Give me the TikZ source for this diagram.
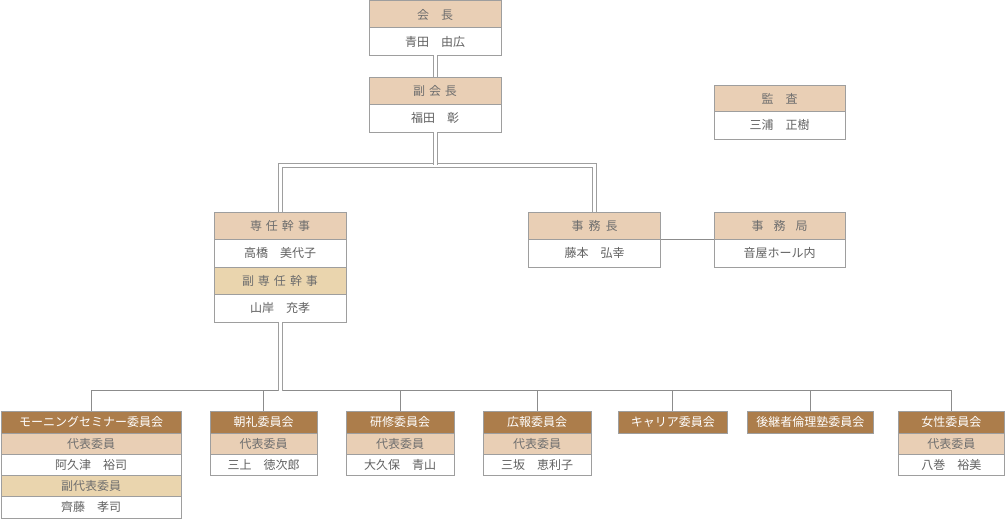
\documentclass[tikz,border=0pt]{standalone}
\usepackage{fontspec}
\newfontfamily\jp{Noto Sans CJK JP}
\definecolor{cBorder}{HTML}{9E9E9E}
\definecolor{cLine}{HTML}{8C8C8C}
\definecolor{cTan}{HTML}{E9CFB5}
\definecolor{cSand}{HTML}{EAD5AE}
\definecolor{cBrown}{HTML}{AC7D4B}
\definecolor{cText}{HTML}{6E6E6E}
\begin{document}
\begin{tikzpicture}[x=1pt,y=-1pt,
  font=\jp\fontsize{12}{14}\selectfont,
  cell/.style={draw=cBorder, line width=1pt, inner sep=0pt, outer sep=0pt,
    anchor=north west, text height=10.5pt, text depth=1.3pt, text=cText},
  tanrow/.style={cell, fill=cTan},
  sandrow/.style={cell, fill=cSand},
  namerow/.style={cell, fill=white, text=black!62},
  brownrow/.style={cell, fill=cBrown, text=white},
  big/.style={minimum width=132, minimum height=27.5},
  dbl/.style={draw=cBorder, line width=1pt, double=white, double distance=3pt},
  bus/.style={draw=cLine, line width=1pt}]
\useasboundingbox (0,0) rectangle (1006,519);

% top
\node[tanrow, big] (kaichoH) at (369,1) {会　長};
\node[namerow, big] (kaichoB) at (369,28) {青田　由広};
\node[tanrow, big] (fukuH) at (369,77) {副\hspace{4pt}会\hspace{4pt}長};
\node[namerow, big] (fukuB) at (369,104.5) {福田　彰};

\node[tanrow, big, minimum width=131] (kansaH) at (714,85) {監　査};
\node[namerow, big, minimum width=131] (kansaB) at (714,111.5) {三浦　正樹};

\node[tanrow, big] (seninH) at (214,212) {専\hspace{4pt}任\hspace{4pt}幹\hspace{4pt}事};
\node[namerow, big] (seninB) at (214,239.5) {高橋　美代子};
\node[sandrow, big] (fseninH) at (214,267) {副\hspace{4pt}専\hspace{4pt}任\hspace{4pt}幹\hspace{4pt}事};
\node[namerow, big] (fseninB) at (214,294.5) {山岸　充孝};

\node[tanrow, big] (jimuchoH) at (528.5,212) {事\hspace{5pt}務\hspace{5pt}長};
\node[namerow, big] (jimuchoB) at (528.5,239.5) {藤本　弘幸};
\node[tanrow, big, minimum width=131] (jimukyokuH) at (714,212) {事\hspace{10pt}務\hspace{10pt}局};
\node[namerow, big, minimum width=131] (jimukyokuB) at (714,239.5) {音屋ホール内};

% bottom committees
\tikzset{hrow/.style={minimum height=22}, srow/.style={minimum height=21}}
\node[brownrow, hrow, minimum width=180] (mornH) at (1,411) {モーニングセミナー委員会};
\node[tanrow, srow, minimum width=180] (mornR1) at (1,433) {代表委員};
\node[namerow, srow, minimum width=180] (mornN1) at (1,454) {阿久津　裕司};
\node[sandrow, srow, minimum width=180, minimum height=21.5] (mornR2) at (1,475) {副代表委員};
\node[namerow, srow, minimum width=180, minimum height=21.5] (mornN2) at (1,496.5) {齊藤　孝司};

\node[brownrow, hrow, minimum width=107] (choreiH) at (210,411) {朝礼委員会};
\node[tanrow, srow, minimum width=107] (choreiR) at (210,433) {代表委員};
\node[namerow, srow, minimum width=107] (choreiN) at (210,454) {三上　徳次郎};

\node[brownrow, hrow, minimum width=108] (kenshuH) at (346,411) {研修委員会};
\node[tanrow, srow, minimum width=108] (kenshuR) at (346,433) {代表委員};
\node[namerow, srow, minimum width=108] (kenshuN) at (346,454) {大久保　青山};

\node[brownrow, hrow, minimum width=108] (kohoH) at (483,411) {広報委員会};
\node[tanrow, srow, minimum width=108] (kohoR) at (483,433) {代表委員};
\node[namerow, srow, minimum width=108] (kohoN) at (483,454) {三坂　恵利子};

\node[brownrow, hrow, minimum width=108.5] (careerH) at (618.5,411) {キャリア委員会};

\node[brownrow, hrow, minimum width=126.5] (koukeiH) at (747,411) {後継者倫理塾委員会};

\node[brownrow, hrow, minimum width=105.5] (joseiH) at (898.5,411) {女性委員会};
\node[tanrow, srow, minimum width=105.5] (joseiR) at (898.5,433) {代表委員};
\node[namerow, srow, minimum width=105.5] (joseiN) at (898.5,454) {八巻　裕美};

% connectors
\coordinate (branch) at (435,165.3);
\coordinate (busY) at (280,390.5);

\draw[dbl] (kaichoB.south) -- (fukuH.north);
\draw[dbl] (seninH.north) |- (branch) -| (jimuchoH.north);
\draw[dbl] (fukuB.south) -- (branch);
\draw[bus] (jimuchoB.north east) -- (jimukyokuB.north west);

\draw[bus] (mornH.north) |- (joseiH.north |- busY) -- (joseiH.north);
\draw[bus] (choreiH.north) -- (choreiH.north |- busY);
\draw[bus] (kenshuH.north) -- (kenshuH.north |- busY);
\draw[bus] (kohoH.north) -- (kohoH.north |- busY);
\draw[bus] (careerH.north) -- (careerH.north |- busY);
\draw[bus] (koukeiH.north) -- (koukeiH.north |- busY);
\draw[dbl] (fseninB.south) -- (busY);
\end{tikzpicture}
\end{document}
